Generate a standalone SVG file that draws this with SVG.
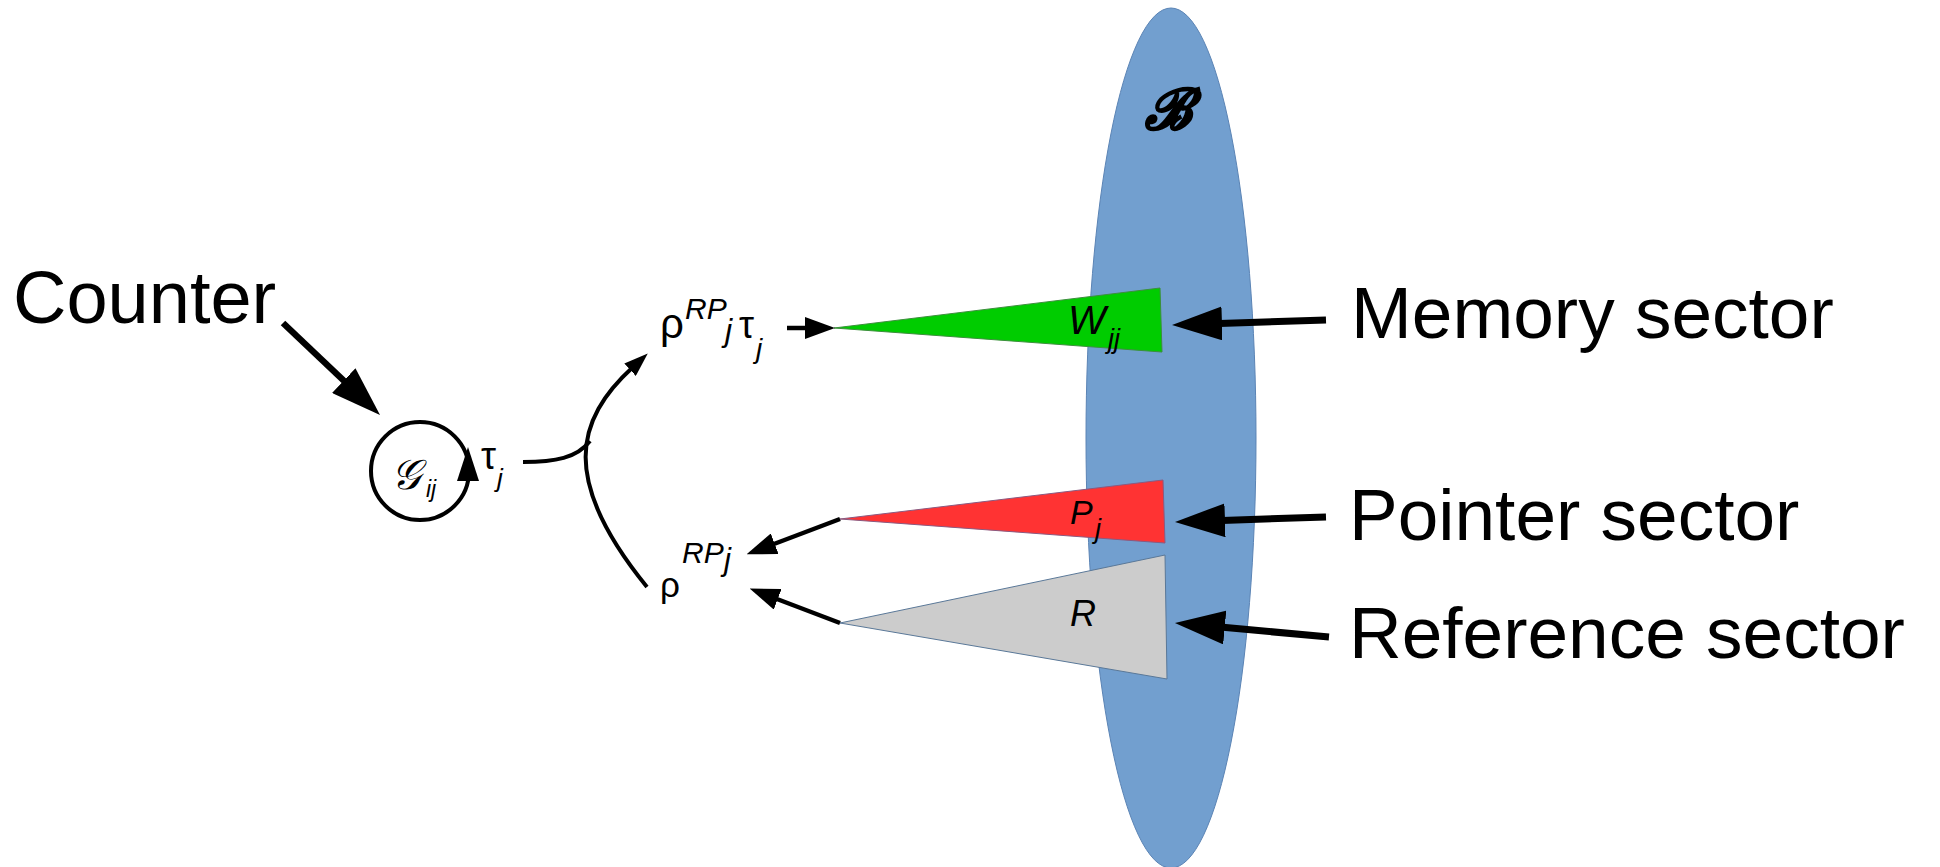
<svg xmlns="http://www.w3.org/2000/svg" width="1940" height="867" viewBox="0 0 1940 867">
  <style>
    .lbl { font-family: "Liberation Sans", Arial, sans-serif; fill: #000; }
    .math { font-family: "Liberation Sans", Arial, sans-serif; fill: #000; }
    .it { font-style: italic; }
    .line { fill: none; stroke: #000; stroke-linecap: butt; }
    .sector { stroke-width: 1; stroke-linejoin: miter; }
  </style>
  <defs>
    <marker id="ahBig" markerUnits="userSpaceOnUse" markerWidth="50" markerHeight="34" viewBox="0 0 50 34" refX="10" refY="17" orient="auto">
      <path d="M0,0 L50,17 L0,34 z" fill="#000"/>
    </marker>
    <marker id="ahMed" markerUnits="userSpaceOnUse" markerWidth="30" markerHeight="22" viewBox="0 0 30 22" refX="5" refY="11" orient="auto">
      <path d="M0,0 L30,11 L0,22 z" fill="#000"/>
    </marker>
    <marker id="ahSmall" markerUnits="userSpaceOnUse" markerWidth="24" markerHeight="17" viewBox="0 0 24 17" refX="4" refY="8.5" orient="auto">
      <path d="M0,0 L24,8.5 L0,17 z" fill="#000"/>
    </marker>
  </defs>

  <rect width="1940" height="867" fill="#fff"/>

  <g id="buffer-B">
    <ellipse cx="1171" cy="438" rx="85" ry="430" fill="#729fcf" stroke="#5b84b5" stroke-width="1"/>
    <text x="1168" y="129" font-family="DejaVu Serif, serif" font-size="56" font-weight="bold" font-style="italic" text-anchor="middle" fill="#000" stroke="#000" stroke-width="1.6">ℬ</text>
  </g>

  <g id="memory-sector">
    <polygon class="sector" points="834,328 1160,288 1162,352" fill="#00cc00" stroke="#3c8f3c"/>
    <text class="math it" x="1068" y="334" font-size="40">W</text>
    <text class="math it" x="1108" y="348" font-size="27">jj</text>
  </g>

  <g id="pointer-sector">
    <polygon class="sector" points="840,519 1163,480 1165,543" fill="#ff3333" stroke="#8a5a80"/>
    <text class="math it" x="1070" y="524" font-size="34">P</text>
    <text class="math it" x="1095" y="538" font-size="27">j</text>
  </g>

  <g id="reference-sector">
    <polygon class="sector" points="840,623 1165,555 1167,679" fill="#cccccc" stroke="#5a7898"/>
    <text class="math it" x="1070" y="626" font-size="36">R</text>
  </g>

  <g id="counter-node">
    <circle cx="420" cy="471" r="49" fill="none" stroke="#000" stroke-width="4"/>
    <polygon points="468,447 457,481 479,481" fill="#000"/>
    <text x="391" y="489" font-family="DejaVu Serif, serif" font-size="42" font-style="italic" fill="#000">𝒢</text>
    <text class="math it" x="426" y="497" font-size="23">ij</text>
    <text class="math" x="481" y="469" font-size="38">τ</text>
    <text class="math it" x="497" y="487" font-size="26">j</text>
  </g>

  <g id="rho-tau-label">
    <text class="math" x="660" y="338" font-size="42">ρ</text>
    <text class="math it" x="685" y="319" font-size="30">RP</text>
    <text class="math it" x="725" y="341" font-size="32">j</text>
    <text class="math" x="739" y="338" font-size="38">τ</text>
    <text class="math it" x="756" y="358" font-size="28">j</text>
  </g>

  <g id="rho-label">
    <text class="math" x="660" y="597" font-size="35">ρ</text>
    <text class="math it" x="682" y="563" font-size="30">RP</text>
    <text class="math it" x="724" y="570" font-size="31">j</text>
  </g>

  <g id="text-labels">
    <text class="lbl" x="13" y="323" font-size="74">Counter</text>
    <text class="lbl" x="1351" y="338" font-size="73">Memory sector</text>
    <text class="lbl" x="1349" y="540" font-size="73">Pointer sector</text>
    <text class="lbl" x="1349" y="658" font-size="73">Reference sector</text>
  </g>

  <g id="connectors">
    <path class="line" d="M283,323 L351,387.5" stroke-width="6.5" marker-end="url(#ahBig)"/>
    <path class="line" d="M1326,320 L1212,323.7" stroke-width="7" marker-end="url(#ahBig)"/>
    <path class="line" d="M1326,517 L1215,520.7" stroke-width="7" marker-end="url(#ahBig)"/>
    <path class="line" d="M1329,637 L1214.8,626.6" stroke-width="7" marker-end="url(#ahBig)"/>
    <path class="line" d="M787,328 L810,328" stroke-width="4.5" marker-end="url(#ahMed)"/>
    <path class="line" d="M840,519 L770,545.5" stroke-width="4.5" marker-end="url(#ahMed)"/>
    <path class="line" d="M840,623 L773,597.5" stroke-width="4.5" marker-end="url(#ahMed)"/>
    <path class="line" d="M647,587 C560,480 575,420 633,367" stroke-width="4" marker-end="url(#ahSmall)"/>
    <path class="line" d="M523,462 C555,462 577,458 590,441" stroke-width="4"/>
  </g>
</svg>
